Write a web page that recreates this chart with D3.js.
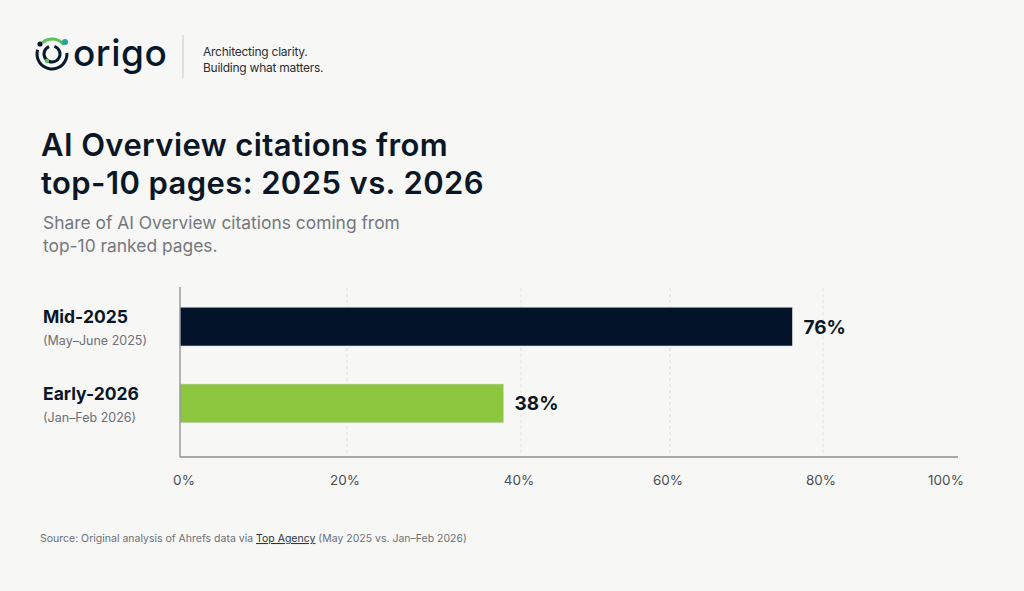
<!DOCTYPE html>
<html>
<head>
<meta charset="utf-8">
<script src="https://cdn.jsdelivr.net/npm/d3@7"></script>
<style>
  html, body { margin: 0; padding: 0; background: #f7f7f6; }
  svg { display: block; }
</style>
</head>
<body>
<script>
var width = 1024, height = 591;

// data
var categories = ["Mid-2025", "Early-2026"];
var periods = ["(May\u2013June 2025)", "(Jan\u2013Feb 2026)"];
var shares = [76, 38];
var barColors = ["#03142a", "#8dc63f"];
var tickValues = [0, 20, 40, 60, 80, 100];
var tickLabels = ["0%", "20%", "40%", "60%", "80%", "100%"];

var svg = d3.select("body").append("svg").attr("width", width).attr("height", height);

svg.append("rect").attr("width", width).attr("height", height).attr("fill", "#f7f7f6");

// logo
var logo = svg.append("g").attr("transform", "translate(52,54)");
var arc = d3.arc();
logo.append("path")
  .attr("d", arc({innerRadius: 13.5, outerRadius: 16.5, startAngle: -0.7, endAngle: 0.9}))
  .attr("fill", "#5cc05a");
logo.append("path")
  .attr("d", arc({innerRadius: 13.5, outerRadius: 16.5, startAngle: 1.5, endAngle: 5.0}))
  .attr("fill", "#06192c");
logo.append("path")
  .attr("d", arc({innerRadius: 6.5, outerRadius: 9.5, startAngle: 0.3, endAngle: 5.9}))
  .attr("fill", "#06192c");
logo.append("circle").attr("cx", 13).attr("cy", -12).attr("r", 3).attr("fill", "#1fa89a");
logo.append("circle").attr("cx", -12).attr("cy", -10).attr("r", 2.6).attr("fill", "#06192c");
logo.append("circle").attr("cx", -5).attr("cy", 7).attr("r", 2.2).attr("fill", "#5cc05a");

svg.append("text")
  .attr("x", 73).attr("y", 66)
  .attr("font-family", "Inter, sans-serif")
  .attr("font-size", 37).attr("font-weight", 500)
  .attr("fill", "#06192c")
  .attr("letter-spacing", "0.5")
  .text("origo");

svg.append("line")
  .attr("x1", 183).attr("x2", 183).attr("y1", 35).attr("y2", 78)
  .attr("stroke", "#c9c9c9").attr("stroke-width", 1);

svg.selectAll(".tag")
  .data(["Architecting clarity.", "Building what matters."])
  .enter().append("text")
  .attr("x", 203).attr("y", (d, i) => 56 + i * 16)
  .attr("font-family", "Inter, sans-serif")
  .attr("font-size", 12).attr("fill", "#2b2f36")
  .attr("letter-spacing", "-0.25")
  .text(d => d);

// titles
svg.selectAll(".title")
  .data(["AI Overview citations from", "top-10 pages: 2025 vs. 2026"])
  .enter().append("text")
  .attr("x", 41).attr("y", (d, i) => 156 + i * 38)
  .attr("font-family", "Inter, sans-serif")
  .attr("font-size", 31).attr("font-weight", 600)
  .attr("letter-spacing", "0.4")
  .attr("fill", "#0b1726")
  .text(d => d);

svg.selectAll(".subtitle")
  .data(["Share of AI Overview citations coming from", "top-10 ranked pages."])
  .enter().append("text")
  .attr("x", 43).attr("y", (d, i) => 229 + i * 23)
  .attr("font-family", "Inter, sans-serif")
  .attr("font-size", 17.4).attr("fill", "#75787d")
  .text(d => d);

// chart
var x = d3.scaleLinear()
  .domain(tickValues)
  .range([180, 347, 521, 670, 823, 958]);

var y = d3.scaleBand()
  .domain(categories)
  .range([288, 442])
  .paddingInner(0.98 / 1.98)
  .paddingOuter(0.25);

// grid lines
svg.selectAll(".grid")
  .data(tickValues.slice(1, 5))
  .enter().append("line")
  .attr("x1", d => x(d)).attr("x2", d => x(d))
  .attr("y1", 288).attr("y2", 457)
  .attr("stroke", "#dcdcdc").attr("stroke-width", 1)
  .attr("stroke-dasharray", "3,3");

// bars
svg.selectAll(".bar")
  .data(shares)
  .enter().append("rect")
  .attr("x", x(0))
  .attr("y", (d, i) => y(categories[i]))
  .attr("width", d => x(d) - x(0))
  .attr("height", y.bandwidth())
  .attr("fill", (d, i) => barColors[i])
  .attr("stroke", "#d4d8dc").attr("stroke-width", 0.6);

svg.selectAll(".val")
  .data(shares)
  .enter().append("text")
  .attr("x", d => x(d) + 11)
  .attr("y", (d, i) => y(categories[i]) + y.bandwidth() / 2 + 7)
  .attr("font-family", "Inter, sans-serif")
  .attr("font-size", 19).attr("font-weight", 700)
  .attr("fill", "#0b1726")
  .text(d => d + "%");

// category labels
svg.selectAll(".cat")
  .data(categories)
  .enter().append("text")
  .attr("x", 43)
  .attr("y", d => y(d) + 16)
  .attr("font-family", "Inter, sans-serif")
  .attr("font-size", 17.5).attr("font-weight", 700)
  .attr("fill", "#0b1726")
  .text(d => d);

svg.selectAll(".per")
  .data(periods)
  .enter().append("text")
  .attr("x", 43)
  .attr("y", (d, i) => y(categories[i]) + 38)
  .attr("font-family", "Inter, sans-serif")
  .attr("font-size", 12.5)
  .attr("fill", "#6d7075")
  .text(d => d);

// axes
svg.append("line")
  .attr("x1", x(0)).attr("x2", x(100)).attr("y1", 457).attr("y2", 457)
  .attr("stroke", "#8e9196").attr("stroke-width", 1.3);
svg.append("line")
  .attr("x1", x(0)).attr("x2", x(0)).attr("y1", 287).attr("y2", 457)
  .attr("stroke", "#8e9196").attr("stroke-width", 1.3);

svg.selectAll(".tick")
  .data(tickValues)
  .enter().append("text")
  .attr("x", (d, i) => x(d) + (i == 0 ? 4 : (i == 5 ? -12 : -2)))
  .attr("y", 485)
  .attr("text-anchor", "middle")
  .attr("font-family", "Inter, sans-serif")
  .attr("font-size", 13.5)
  .attr("fill", "#4a4e55")
  .text((d, i) => tickLabels[i]);

// source
var src = svg.append("text")
  .attr("x", 40).attr("y", 542)
  .attr("font-family", "Inter, sans-serif")
  .attr("font-size", 10.5)
  .attr("fill", "#6d7075");
src.append("tspan").text("Source: Original analysis of Ahrefs data via ");
src.append("tspan").attr("fill", "#2b3440").attr("text-decoration", "underline").text("Top Agency");
src.append("tspan").text("  (May 2025 vs. Jan\u2013Feb 2026)");
</script>
</body>
</html>
